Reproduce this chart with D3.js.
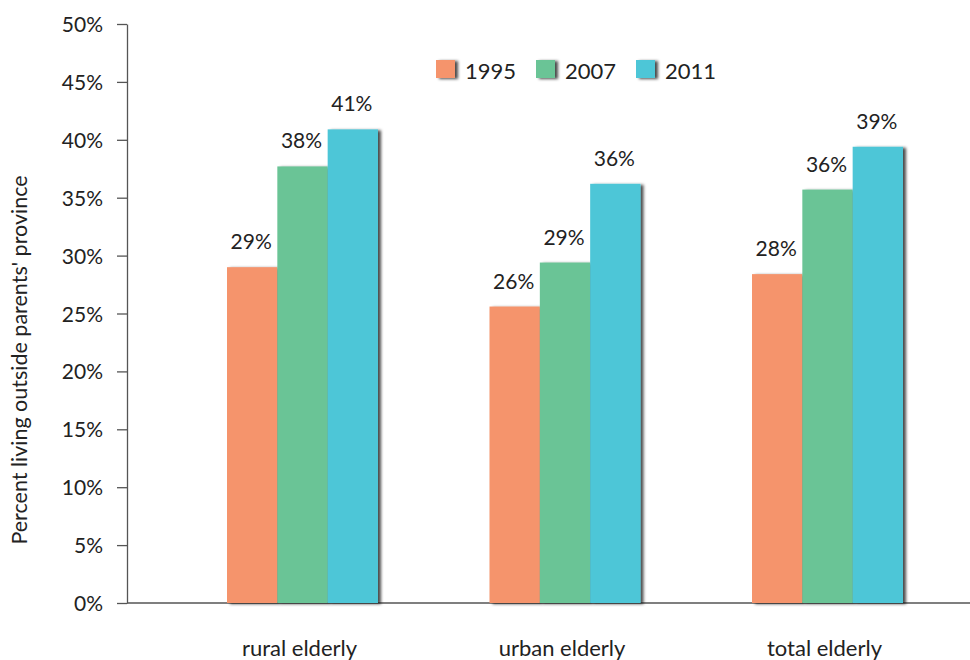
<!DOCTYPE html>
<html>
<head>
<meta charset="utf-8">
<script src="https://cdn.jsdelivr.net/npm/d3@7"></script>
<style>
  html, body { margin: 0; padding: 0; background: #fff; }
  svg, svg text { font-family: Lato, "Open Sans", sans-serif; }
  svg { display: block; }
</style>
</head>
<body>
<svg id="chart" width="970" height="660"></svg>
<script>
const categories = ["rural elderly", "urban elderly", "total elderly"];
const years = ["1995", "2007", "2011"];
const values1995 = [29.0, 25.6, 28.4];
const values2007 = [37.7, 29.4, 35.7];
const values2011 = [40.9, 36.2, 39.4];
const yTicks = [0, 5, 10, 15, 20, 25, 30, 35, 40, 45, 50];
const colors = ["#F5946C", "#6BC496", "#4EC6D7"];

const series = [values1995, values2007, values2011];
const data = [];
categories.forEach((c, i) => {
  years.forEach((yr, j) => data.push({ cat: c, year: yr, value: series[j][i], color: colors[j] }));
});

const svg = d3.select("#chart");
const FONT = "Lato, 'Open Sans', sans-serif";

const defs = svg.append("defs");
const f = defs.append("filter").attr("id", "shadow")
  .attr("x", "-20%").attr("y", "-20%").attr("width", "150%").attr("height", "150%");
f.append("feDropShadow").attr("dx", 3).attr("dy", 1).attr("stdDeviation", 1.7)
  .attr("flood-color", "#000").attr("flood-opacity", 0.7);

const y = d3.scaleLinear().domain([0, 50]).range([603, 24]);
const x = d3.scaleBand().domain(categories).range([171.25, 958.75]).padding(0);
const xi = d3.scaleBand().domain(years).range([-75.5, 75.5]).padding(0);

// y axis
const yAxis = d3.axisLeft(y).tickValues(yTicks).tickSize(10).tickSizeOuter(0)
  .tickFormat(d => d + "%").tickPadding(14);
const gy = svg.append("g").attr("transform", "translate(127,0)").call(yAxis)
  .attr("font-family", FONT).attr("font-size", null);
gy.select(".domain").attr("stroke", "#555").attr("stroke-width", 1.3);
gy.selectAll(".tick line").attr("stroke", "#555").attr("stroke-width", 1.3);
gy.selectAll(".tick text").attr("fill", "#222").style("font-size", "21px")
  .attr("dy", "0.36em");

// x baseline
svg.append("line").attr("x1", 127).attr("x2", 970).attr("y1", y(0)).attr("y2", y(0))
  .attr("stroke", "#555").attr("stroke-width", 1.3);

// bars
const bars = svg.append("g");
bars.selectAll("rect").data(data).join("rect")
  .attr("x", d => x(d.cat) + x.bandwidth() / 2 + xi(d.year))
  .attr("width", xi.bandwidth())
  .attr("y", d => y(d.value))
  .attr("height", d => y(0) - y(d.value))
  .attr("fill", d => d.color)
  .attr("filter", "url(#shadow)");

// value labels
svg.append("g").selectAll("text").data(data).join("text")
  .attr("x", d => x(d.cat) + x.bandwidth() / 2 + xi(d.year) + xi.bandwidth() / 2 - 1)
  .attr("y", d => y(d.value) - 18)
  .attr("text-anchor", "middle")
  .attr("fill", "#222")
  .style("font-size", "21px")
  .text(d => Math.round(d.value) + "%");

// x axis labels
const xAxis = d3.axisBottom(x).tickSize(0).tickPadding(0);
const gx = svg.append("g").attr("transform", `translate(0,${y(0)})`).call(xAxis)
  .attr("font-family", FONT).attr("font-size", null);
gx.select(".domain").remove();
gx.selectAll(".tick text").attr("fill", "#222").style("font-size", "22px")
  .attr("dy", 0).attr("y", 53).attr("dx", -3);

// y axis title
svg.append("text")
  .attr("transform", "translate(27,360) rotate(-90)")
  .attr("text-anchor", "middle")
  .attr("fill", "#222")
  .style("font-size", "21.5px")
  .text("Percent living outside parents' province");

// legend
const lx = d3.scalePoint().domain(years).range([436, 636]);
const lg = svg.append("g").selectAll("g").data(years).join("g")
  .attr("transform", d => `translate(${lx(d)},60)`);
lg.append("rect").attr("width", 19).attr("height", 18)
  .attr("fill", (d, i) => colors[i]).attr("filter", "url(#shadow)");
lg.append("text").attr("x", 29).attr("y", 19)
  .attr("fill", "#222").style("font-size", "22px")
  .text(d => d);
</script>
</body>
</html>
